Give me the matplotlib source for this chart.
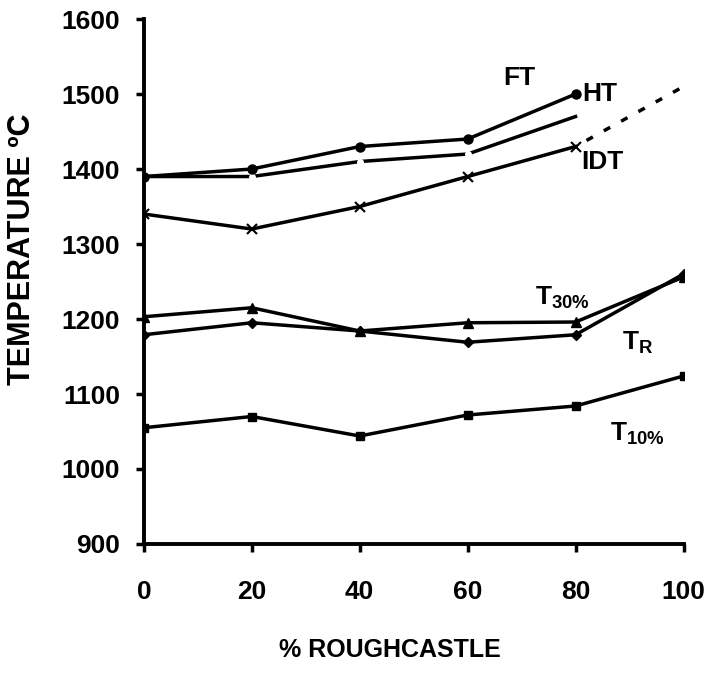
import matplotlib
matplotlib.use("Agg")
import matplotlib.pyplot as plt

# % roughcastle in the blend
x = [0, 20, 40, 60, 80, 100]
x80 = [0, 20, 40, 60, 80]

# ash fusion temperatures (deg C)
ht = [1390, 1400, 1430, 1440, 1500]
ft = [1390, 1390, 1410, 1420, 1470]
idt = [1340, 1320, 1350, 1390, 1430]
idt_ext_x = [80, 100]
idt_ext = [1430, 1510]
t30 = [1203, 1215, 1184, 1195, 1196, 1256]
tr = [1179, 1195, 1184, 1169, 1179, 1260]
t10 = [1055, 1070, 1044, 1072, 1084, 1124]

yticks = [900, 1000, 1100, 1200, 1300, 1400, 1500, 1600]
xticks = [0, 20, 40, 60, 80, 100]

plt.rcParams['font.family'] = ['Liberation Sans', 'DejaVu Sans']
plt.rcParams['font.weight'] = 'bold'
plt.rcParams['mathtext.fontset'] = 'custom'
plt.rcParams['mathtext.rm'] = 'Liberation Sans:bold'
plt.rcParams['mathtext.bf'] = 'Liberation Sans:bold'
plt.rcParams['mathtext.it'] = 'Liberation Sans:bold'

fig = plt.figure(figsize=(7.12, 6.73), dpi=100)
ax = fig.add_axes([0.202, 0.1917, 0.758, 0.780])

lw = 2.5
ax.plot(x80, ft, color='black', lw=lw, marker='o', ms=4,
        mfc='white', mec='white', markevery=[1, 2, 3], zorder=2)
ax.plot(x80, ht, color='black', lw=lw, marker='o', ms=6.5, zorder=3)
ax.plot(x80, idt, color='black', lw=lw, marker='x', ms=7, mew=1.5, zorder=3)
ax.plot(idt_ext_x, idt_ext, color='black', lw=lw,
        linestyle=(2.1, (2.1, 3.6)), zorder=2)
ax.plot(x, t30, color='black', lw=lw, marker='^', ms=6.5, zorder=3)
ax.plot(x, tr, color='black', lw=lw, marker='D', ms=5, zorder=3)
ax.plot(x, t10, color='black', lw=lw, marker='s', ms=6, zorder=3)

lab = dict(fontsize=19, fontweight='bold', color='black')
ax.text(69.5, 1522, 'FT', ha='center', va='center', **lab)
ax.text(84.5, 1500, 'HT', ha='center', va='center', **lab)
ax.text(85, 1410, 'IDT', ha='center', va='center', **lab)
ax.text(77.5, 1228, r'T$_{\mathbf{30\%}}$', ha='center', va='center', **lab)
ax.text(91.5, 1168, r'T$_{\mathbf{R}}$', ha='center', va='center', **lab)
ax.text(91.5, 1047, r'T$_{\mathbf{10\%}}$', ha='center', va='center', **lab)

ax.set_xlim(0, 100)
ax.set_ylim(900, 1600)
ax.set_xticks(xticks)
ax.set_yticks(yticks)

for side in ['top', 'right']:
    ax.spines[side].set_visible(False)
for side in ['left', 'bottom']:
    ax.spines[side].set_linewidth(2.8)
ax.tick_params(axis='both', direction='out', length=6, width=2.5,
               labelsize=19)
ax.tick_params(axis='x', pad=20)
ax.tick_params(axis='y', pad=11)
for t in ax.get_xticklabels() + ax.get_yticklabels():
    t.set_fontweight('bold')

ax.set_ylabel('TEMPERATURE \u00baC', fontsize=22, fontweight='bold')
ax.yaxis.set_label_coords(-0.198, 0.562)
ax.set_xlabel('% ROUGHCASTLE', fontsize=18, fontweight='bold')
ax.xaxis.set_label_coords(0.456, -0.179)

fig.savefig('out.png', dpi=100)
